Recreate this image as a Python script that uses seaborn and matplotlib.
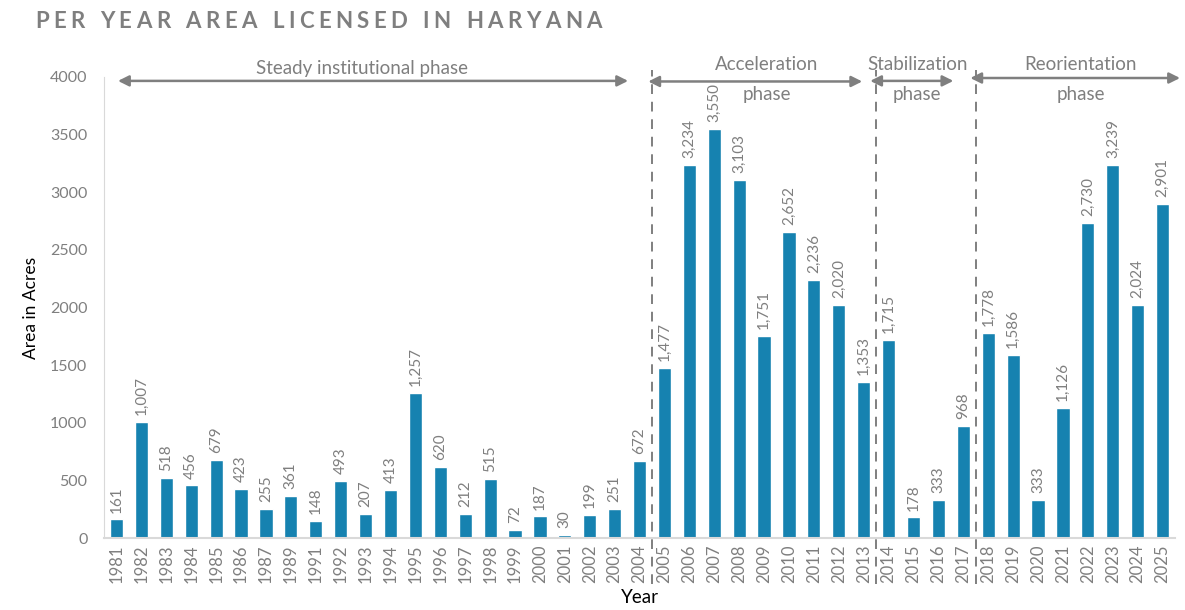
import numpy as np
import pandas as pd
import matplotlib
matplotlib.use("Agg")
import matplotlib.pyplot as plt
import seaborn as sns

years = [
    "1981", "1982", "1983", "1984", "1985", "1986", "1987", "1989", "1991",
    "1992", "1993", "1994", "1995", "1996", "1997", "1998", "1999", "2000",
    "2001", "2002", "2003", "2004", "2005", "2006", "2007", "2008", "2009",
    "2010", "2011", "2012", "2013", "2014", "2015", "2016", "2017", "2018",
    "2019", "2020", "2021", "2022", "2023", "2024", "2025",
]
area = [
    161, 1007, 518, 456, 679, 423, 255, 361, 148,
    493, 207, 413, 1257, 620, 212, 515, 72, 187,
    30, 199, 251, 672, 1477, 3234, 3550, 3103, 1751,
    2652, 2236, 2020, 1353, 1715, 178, 333, 968, 1778,
    1586, 333, 1126, 2730, 3239, 2024, 2901,
]

phase_names = [
    "Steady institutional phase",
    "Acceleration\nphase",
    "Stabilization\nphase",
    "Reorientation\nphase",
]
# first and last year of each phase
phase_spans = [("1981", "2004"), ("2005", "2013"), ("2014", "2017"), ("2018", "2025")]

title = "PER YEAR AREA LICENSED IN HARYANA"

df = pd.DataFrame({"Year": years, "Area": area})

sns.set_style("white")
plt.rcParams["font.family"] = ["Lato", "DejaVu Sans"]

grey = "#7f7f7f"
bar_color = "#1682b0"

fig = plt.figure(figsize=(11.85, 6.1), dpi=100)
ax = fig.add_axes([0.0878, 0.118, 0.9038, 0.756])

sns.barplot(
    data=df, x="Year", y="Area",
    color=bar_color, saturation=1, width=0.53, ax=ax,
)

ax.set_xlim(-0.5, len(years) - 0.5)
ax.set_ylim(0, 4000)
ax.set_yticks(np.arange(0, 4001, 500))

for i, v in enumerate(area):
    ax.annotate(
        f"{v:,}", (i, v), xytext=(0, 5), textcoords="offset points",
        rotation=90, ha="center", va="bottom", fontsize=11, color=grey,
    )

ax.tick_params(axis="x", labelrotation=90, labelsize=12, colors=grey, length=0, pad=5)
ax.tick_params(axis="y", labelsize=11.5, colors=grey, length=0, pad=12)

ax.set_xlabel("Year", fontsize=13.5, color="black", labelpad=4)
ax.set_ylabel("Area in Acres", fontsize=12.5, color="black", labelpad=8)

for side in ["top", "right"]:
    ax.spines[side].set_visible(False)
ax.spines["left"].set_color("#d9d9d9")
ax.spines["bottom"].set_color("#d9d9d9")
ax.spines["bottom"].set_linewidth(1.5)

# dashed separators between phases
trans = ax.get_xaxis_transform()
for start, end in phase_spans[1:]:
    xpos = years.index(start) - 0.5
    ax.plot([xpos, xpos], [-0.1, 1.015], transform=trans, color=grey,
            linestyle=(0, (5, 4)), lw=1.4, clip_on=False)

arrow_x = [(0.06, 20.54), (21.35, 29.94), (30.26, 33.6), (34.28, 42.7)]
arrow_y = [3965, 3960, 3965, 3990]
text_x = [9.86, 26.1, 32.15, 38.7]

for name, (x0, x1), ay, tx in zip(phase_names, arrow_x, arrow_y, text_x):
    ax.annotate(
        "", xy=(x0, ay), xytext=(x1, ay),
        arrowprops=dict(arrowstyle="<|-|>", color=grey, lw=1.8,
                        mutation_scale=16, shrinkA=0, shrinkB=0),
        annotation_clip=False,
    )
    if "\n" in name:
        top, bottom = name.split("\n")
        ax.text(tx, 4110, top, ha="center", va="center", fontsize=13.5,
                color=grey, clip_on=False)
        ax.text(tx, 3845, bottom, ha="center", va="center", fontsize=13.5,
                color=grey, clip_on=False)
    else:
        ax.text(tx, 4070, name, ha="center", va="center", fontsize=13.5,
                color=grey, clip_on=False)

# letter-spaced title, one character at a time
renderer = fig.canvas.get_renderer()
x_px = 35
for ch in title:
    t = fig.text(x_px / 1185, 0.965, ch, fontsize=16, fontweight="bold",
                 color=grey, ha="left", va="center")
    w = t.get_window_extent(renderer).width if ch != " " else 6
    x_px += w + 4.5

fig.savefig("out.png", dpi=100)
